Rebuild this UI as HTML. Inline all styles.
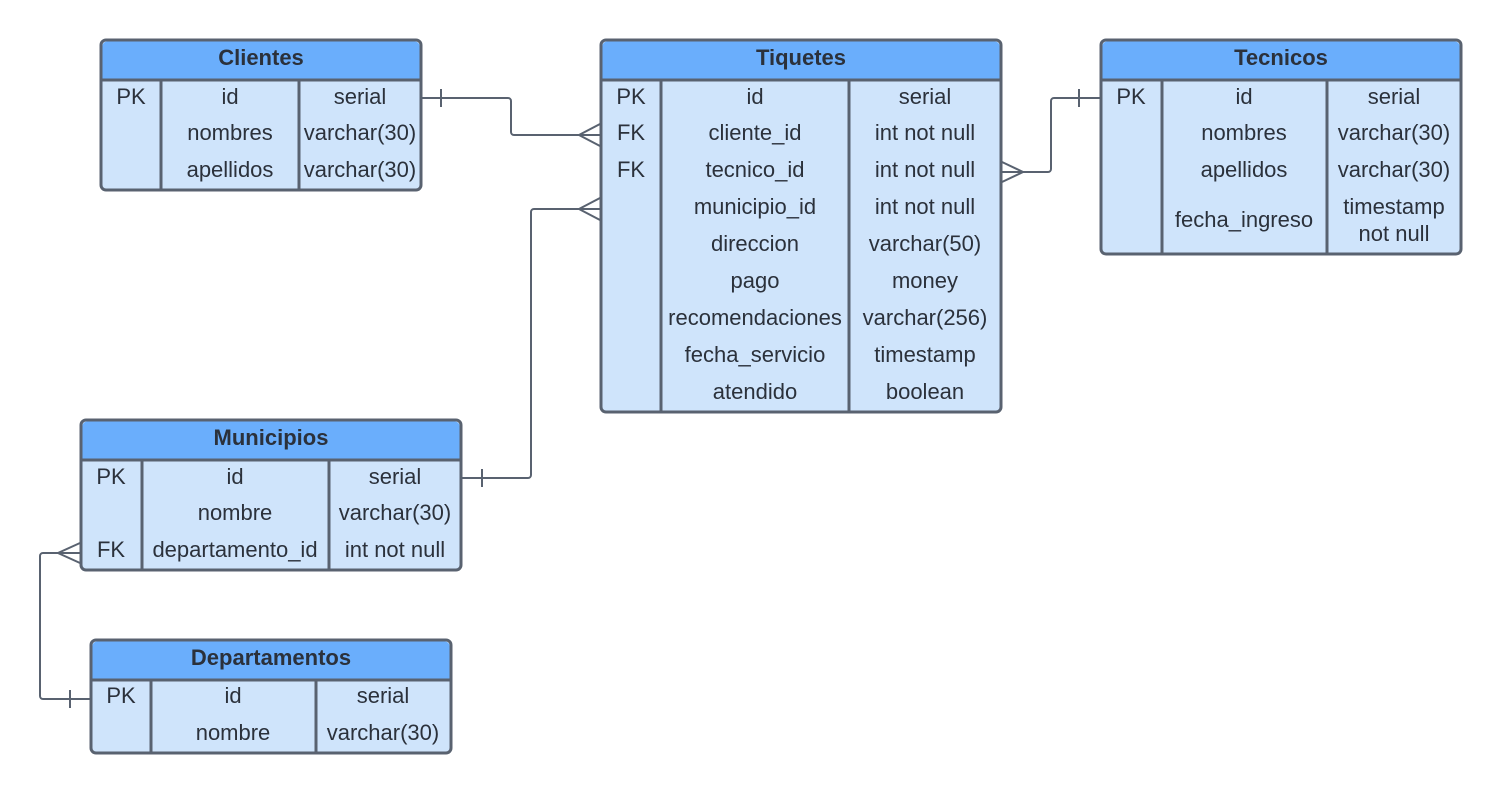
<!DOCTYPE html>
<html><head><meta charset="utf-8"><style>
html,body{margin:0;padding:0;background:#fff;}
svg{display:block;}
text{font-family:"Liberation Sans",sans-serif;font-size:22px;fill:#2b313b;text-anchor:middle;}
.h{font-weight:bold;}
.b{fill:#cfe4fb;stroke:#596270;stroke-width:3;}
.hd{fill:#6aaefc;}
.ln{stroke:#596270;stroke-width:3;fill:none;}
.c{stroke:#596270;stroke-width:2;fill:none;}
</style></head><body>
<svg width="1502" height="794" viewBox="0 0 1502 794">
<!-- Clientes -->
<g>
<rect class="b" x="101" y="40" width="320" height="150" rx="5"/>
<path class="hd" d="M102.5 46 a4.5 4.5 0 0 1 4.5 -4.5 h308 a4.5 4.5 0 0 1 4.5 4.5 V80 H102.5z"/>
<line class="ln" x1="101" y1="80" x2="421" y2="80"/>
<line class="ln" x1="161" y1="80" x2="161" y2="190"/>
<line class="ln" x1="299" y1="80" x2="299" y2="190"/>
<text class="h" x="261" y="65">Clientes</text>
<text x="131" y="104">PK</text><text x="230" y="104">id</text><text x="360" y="104">serial</text>
<text x="230" y="140">nombres</text><text x="360" y="140">varchar(30)</text>
<text x="230" y="177">apellidos</text><text x="360" y="177">varchar(30)</text>
</g>
<!-- Tiquetes -->
<g>
<rect class="b" x="601" y="40" width="400" height="372" rx="5"/>
<path class="hd" d="M602.5 46 a4.5 4.5 0 0 1 4.5 -4.5 h388 a4.5 4.5 0 0 1 4.5 4.5 V80 H602.5z"/>
<line class="ln" x1="601" y1="80" x2="1001" y2="80"/>
<line class="ln" x1="661" y1="80" x2="661" y2="412"/>
<line class="ln" x1="849" y1="80" x2="849" y2="412"/>
<text class="h" x="801" y="65">Tiquetes</text>
<text x="631" y="104">PK</text><text x="755" y="104">id</text><text x="925" y="104">serial</text>
<text x="631" y="140">FK</text><text x="755" y="140">cliente_id</text><text x="925" y="140">int not null</text>
<text x="631" y="177">FK</text><text x="755" y="177">tecnico_id</text><text x="925" y="177">int not null</text>
<text x="755" y="214">municipio_id</text><text x="925" y="214">int not null</text>
<text x="755" y="251">direccion</text><text x="925" y="251">varchar(50)</text>
<text x="755" y="288">pago</text><text x="925" y="288">money</text>
<text x="755" y="325">recomendaciones</text><text x="925" y="325">varchar(256)</text>
<text x="755" y="362">fecha_servicio</text><text x="925" y="362">timestamp</text>
<text x="755" y="399">atendido</text><text x="925" y="399">boolean</text>
</g>
<!-- Tecnicos -->
<g>
<rect class="b" x="1101" y="40" width="360" height="214" rx="5"/>
<path class="hd" d="M1102.5 46 a4.5 4.5 0 0 1 4.5 -4.5 h348 a4.5 4.5 0 0 1 4.5 4.5 V80 H1102.5z"/>
<line class="ln" x1="1101" y1="80" x2="1461" y2="80"/>
<line class="ln" x1="1162" y1="80" x2="1162" y2="254"/>
<line class="ln" x1="1327" y1="80" x2="1327" y2="254"/>
<text class="h" x="1281" y="65">Tecnicos</text>
<text x="1131" y="104">PK</text><text x="1244" y="104">id</text><text x="1394" y="104">serial</text>
<text x="1244" y="140">nombres</text><text x="1394" y="140">varchar(30)</text>
<text x="1244" y="177">apellidos</text><text x="1394" y="177">varchar(30)</text>
<text x="1244" y="227">fecha_ingreso</text><text x="1394" y="214">timestamp</text><text x="1394" y="241">not null</text>
</g>
<!-- Municipios -->
<g>
<rect class="b" x="81" y="420" width="380" height="150" rx="5"/>
<path class="hd" d="M82.5 426 a4.5 4.5 0 0 1 4.5 -4.5 h368 a4.5 4.5 0 0 1 4.5 4.5 V460 H82.5z"/>
<line class="ln" x1="81" y1="460" x2="461" y2="460"/>
<line class="ln" x1="142" y1="460" x2="142" y2="570"/>
<line class="ln" x1="329" y1="460" x2="329" y2="570"/>
<text class="h" x="271" y="445">Municipios</text>
<text x="111" y="484">PK</text><text x="235" y="484">id</text><text x="395" y="484">serial</text>
<text x="235" y="520">nombre</text><text x="395" y="520">varchar(30)</text>
<text x="111" y="557">FK</text><text x="235" y="557">departamento_id</text><text x="395" y="557">int not null</text>
</g>
<!-- Departamentos -->
<g>
<rect class="b" x="91" y="640" width="360" height="113" rx="5"/>
<path class="hd" d="M92.5 646 a4.5 4.5 0 0 1 4.5 -4.5 h348 a4.5 4.5 0 0 1 4.5 4.5 V680 H92.5z"/>
<line class="ln" x1="91" y1="680" x2="451" y2="680"/>
<line class="ln" x1="151" y1="680" x2="151" y2="753"/>
<line class="ln" x1="316" y1="680" x2="316" y2="753"/>
<text class="h" x="271" y="665">Departamentos</text>
<text x="121" y="703">PK</text><text x="233" y="703">id</text><text x="383" y="703">serial</text>
<text x="233" y="740">nombre</text><text x="383" y="740">varchar(30)</text>
</g>
<!-- connectors -->
<path class="c" d="M422 98 H508 a3 3 0 0 1 3 3 V132 a3 3 0 0 0 3 3 H600"/>
<line class="c" x1="441" y1="89" x2="441" y2="107"/>
<path class="c" d="M600 124 L579 135 L600 146"/>

<path class="c" d="M1002 172 H1048 a3 3 0 0 0 3 -3 V101 a3 3 0 0 1 3 -3 H1100"/>
<line class="c" x1="1079" y1="89" x2="1079" y2="107"/>
<path class="c" d="M1002 162 L1023 172 L1002 182"/>

<path class="c" d="M462 478 H528 a3 3 0 0 0 3 -3 V212 a3 3 0 0 1 3 -3 H600"/>
<line class="c" x1="482" y1="469" x2="482" y2="487"/>
<path class="c" d="M600 198 L579 209 L600 220"/>

<path class="c" d="M80 553 H43 a3 3 0 0 0 -3 3 V696 a3 3 0 0 0 3 3 H90"/>
<line class="c" x1="70" y1="690" x2="70" y2="708"/>
<path class="c" d="M80 543 L58 553 L80 563"/>
</svg>
</body></html>
